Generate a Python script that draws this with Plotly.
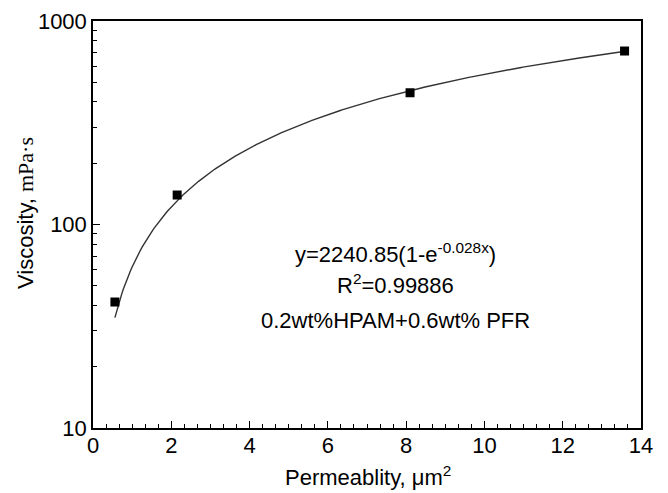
import numpy as np
import plotly.graph_objects as go

# measured data
permeability = [0.56, 2.15, 8.1, 13.58]
viscosity = [41.6, 139.6, 444, 712]

# fit parameters shown on the chart: y = A(1 - e^(-k x))
fit_A = 2240.85
fit_k = 0.028
fit_x_range = [0.56, 13.6]

x_ticks = [0, 2, 4, 6, 8, 10, 12, 14]
y_ticks = [10, 100, 1000]

xf = np.linspace(fit_x_range[0], fit_x_range[1], 300)
yf = fit_A * (1 - np.exp(-fit_k * xf))

fig = go.Figure()
fig.add_trace(go.Scatter(x=xf, y=yf, mode="lines",
                         line=dict(color="#333333", width=1.4), showlegend=False))
fig.add_trace(go.Scatter(x=permeability, y=viscosity, mode="markers",
                         marker=dict(symbol="square", size=9, color="black"),
                         showlegend=False))

font_main = "Liberation Sans, Arial, sans-serif"
fs = 22
minor_y = [v * d for d in (10, 100) for v in range(2, 10)]

L, R, T, B = 93, 641, 21, 428
W, H = 668, 493

fig.update_layout(
    width=W, height=H,
    margin=dict(l=L, r=W - R, t=T, b=H - B),
    plot_bgcolor="white", paper_bgcolor="white",
    font=dict(family=font_main, size=fs, color="black"),
    xaxis=dict(range=[0, 14], tickvals=x_ticks, ticks="inside", ticklen=7,
               tickwidth=1.2, tickcolor="black", automargin=False,
               ticklabelstandoff=-3,
               showline=True, linecolor="black", linewidth=1.5, mirror=True,
               showgrid=False, zeroline=False,
               minor=dict(dtick=2/6, tick0=0, ticks="inside", ticklen=4,
                          tickcolor="black", tickwidth=1.2, showgrid=False)),
    yaxis=dict(type="log", range=[1, 3], tickvals=y_ticks,
               ticktext=[str(v) for v in y_ticks], automargin=False,
               ticks="inside", ticklen=7, tickwidth=1.2, tickcolor="black",
               showline=True, linecolor="black", linewidth=1.5, mirror=True,
               showgrid=False, zeroline=False,
               minor=dict(tickvals=minor_y, ticks="inside", ticklen=4,
                          tickcolor="black", tickwidth=1.2, showgrid=False)),
)

def px_x(p):
    return (p - L) / (R - L)

def px_y(p):
    return 1 - (p - T) / (B - T)

annots = [
    ("y=2240.85(1-e<sup>-0.028x</sup>)", 253),
    ("R<sup>2</sup>=0.99886", 284),
    ("0.2wt%HPAM+0.6wt% PFR", 320),
]
for txt, ypx in annots:
    fig.add_annotation(text=txt, xref="paper", yref="paper",
                       x=px_x(395), y=px_y(ypx),
                       showarrow=False, xanchor="center", yanchor="middle",
                       font=dict(size=fs, family=font_main, color="black"))

# axis titles
fig.add_annotation(text="Permeablity, μm<sup>2</sup>", xref="paper", yref="paper",
                   x=px_x(368), y=px_y(476), showarrow=False,
                   xanchor="center", yanchor="middle",
                   font=dict(size=fs, family=font_main, color="black"))
fig.add_annotation(text="Viscosity, <span style=\"font-family:'Liberation Serif', 'Times New Roman', serif\">mPa·s</span>",
                   xref="paper", yref="paper", x=px_x(25), y=px_y(213),
                   textangle=-90, showarrow=False,
                   xanchor="center", yanchor="middle",
                   font=dict(size=fs, family=font_main, color="black"))

fig.write_html("out.html", config={"displayModeBar": False},
               post_script="document.body.style.margin='0';document.body.style.overflow='hidden';")
